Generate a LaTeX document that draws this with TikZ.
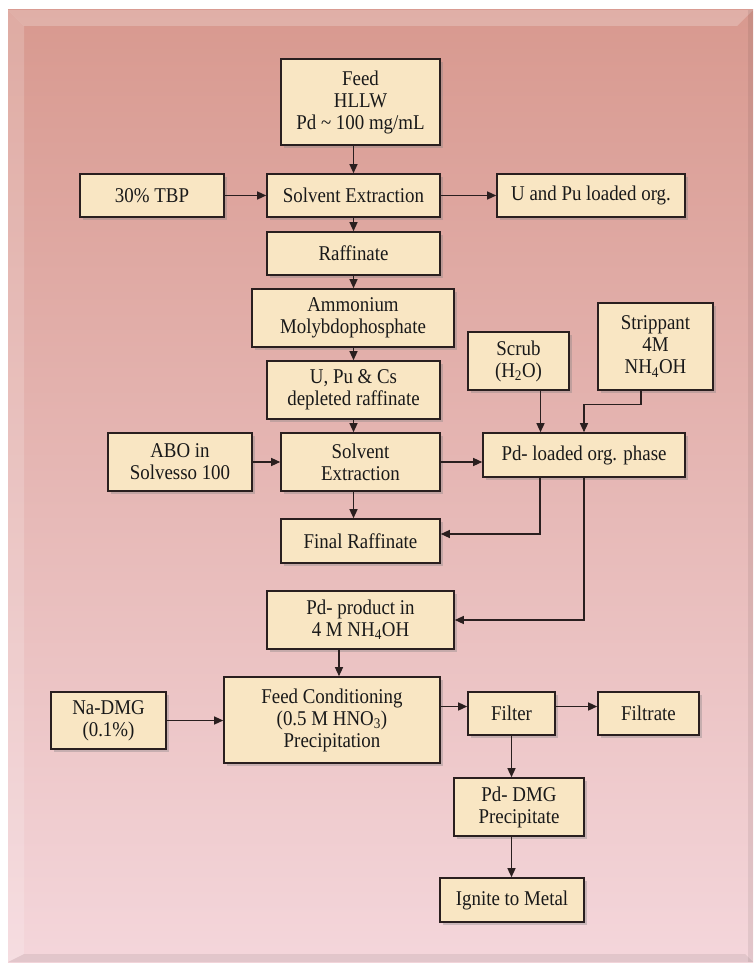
\documentclass[tikz,border=0pt]{standalone}
\usepackage{fontspec}
\setmainfont{Liberation Serif}[FakeStretch=0.9]
\usepackage{xcolor}
\usetikzlibrary{arrows.meta, shadows}

\definecolor{boxfill}{HTML}{F9E6C3}
\definecolor{boxline}{HTML}{2A1F1F}
\definecolor{paneltop}{HTML}{D8998F}
\definecolor{panelbot}{HTML}{F4D6DB}

\begin{document}
\begin{tikzpicture}[x=1pt, y=-1pt,
  box/.style={draw=boxline, fill=boxfill, line width=1.6pt, align=center, inner sep=0pt,
    text=black!90, font=\fontsize{21}{22}\selectfont,
    drop shadow={shadow xshift=3pt, shadow yshift=-3pt, opacity=0.35}},
  arr/.style={-{Triangle[length=9pt,width=8pt]}, line width=1.3pt, draw=boxline}]

% panel
\useasboundingbox (0,0) rectangle (753,965);
\shade[top color=paneltop, bottom color=panelbot] (8,10) rectangle (753,962);
\fill[white, opacity=0.22] (8,10) -- (753,10) -- (737,26) -- (24,26) -- cycle;
\fill[white, opacity=0.18] (8,10) -- (24,26) -- (24,954) -- (8,962) -- cycle;
\fill[black, opacity=0.07] (8,962) -- (24,954) -- (745,954) -- (753,962) -- cycle;
\fill[black, opacity=0.07] (748,10) rectangle (753,962);

% boxes
\node[box, minimum width=159pt, minimum height=86pt] (feed) at (360.5,102) {Feed\\HLLW\\Pd \textasciitilde{} 100 mg/mL};
\node[box, minimum width=144pt, minimum height=43pt] (tbp) at (152,195.5) {30\% TBP};
\node[box, minimum width=173pt, minimum height=43pt] (se1) at (353.5,195.5) {Solvent Extraction};
\node[box, minimum width=188pt, minimum height=43pt] (upu) at (591,195.5) {U and Pu loaded org.};
\node[box, minimum width=173pt, minimum height=43pt] (raff) at (353.5,253.5) {Raffinate};
\node[box, minimum width=202pt, minimum height=58pt] (amp) at (353,318) {Ammonium\\Molybdophosphate};
\node[box, minimum width=173pt, minimum height=58pt] (depl) at (353.5,390) {U, Pu \& Cs\\depleted raffinate};
\node[box, minimum width=101pt, minimum height=58pt] (scrub) at (518.5,361) {Scrub\\(H\textsubscript{2}O)};
\node[box, minimum width=115pt, minimum height=87pt] (strip) at (655.5,346.5) {Strippant\\4M\\NH\textsubscript{4}OH};
\node[box, minimum width=144pt, minimum height=58pt] (abo) at (180,462) {ABO in\\Solvesso 100};
\node[box, minimum width=159pt, minimum height=58pt] (se2) at (360.5,462) {Solvent\\Extraction};
\node[box, minimum width=202pt, minimum height=44pt] (pdorg) at (584,455) {Pd- loaded org. phase};
\node[box, minimum width=159pt, minimum height=44pt] (final) at (360.5,541) {Final Raffinate};
\node[box, minimum width=187pt, minimum height=58pt] (pdprod) at (360.5,620) {Pd- product in\\4 M NH\textsubscript{4}OH};
\node[box, minimum width=115pt, minimum height=57pt] (nadmg) at (108.5,720.5) {Na-DMG\\(0.1\%)};
\node[box, minimum width=216pt, minimum height=86pt] (cond) at (332,720) {Feed Conditioning\\(0.5 M HNO\textsubscript{3})\\Precipitation};
\node[box, minimum width=87pt, minimum height=43pt] (filter) at (511.5,713.5) {Filter};
\node[box, minimum width=101pt, minimum height=43pt] (filtrate) at (648.5,713.5) {Filtrate};
\node[box, minimum width=130pt, minimum height=58pt] (pddmg) at (519,807) {Pd- DMG\\Precipitate};
\node[box, minimum width=144pt, minimum height=44pt] (ignite) at (512,900) {Ignite to Metal};

% connectors
\draw[arr] (feed.south -| se1.north) -- (se1.north);
\draw[arr] (tbp.east) -- (se1.west);
\draw[arr] (se1.east) -- (upu.west);
\draw[arr] (se1.south) -- (raff.north);
\draw[arr] (raff.south) -- (raff.south |- amp.north);
\draw[arr] (amp.south -| depl.south) -- (depl.north);
\draw[arr] (depl.south) -- (depl.south |- se2.north);
\draw[arr] (abo.east) -- (se2.west);
\draw[arr] (se2.east) -- (se2.east -| pdorg.west);
\draw[arr] (depl.south |- se2.south) -- (depl.south |- final.north);
\draw[arr] ([xshift=22pt]scrub.south) -- ([xshift=22pt]scrub.south |- pdorg.north);
\draw[arr] ([xshift=-14.5pt]strip.south) -- ++(0,14) -| (pdorg.north);
\draw[arr] ([xshift=-44pt]pdorg.south) |- ([yshift=7pt]final.east);
\draw[arr] (pdorg.south) |- (pdprod.east);
\draw[arr] ([xshift=-21.5pt]pdprod.south) -- ([xshift=-21.5pt]pdprod.south |- cond.north);
\draw[arr] (nadmg.east) -- (nadmg.east -| cond.west);
\draw[arr] ([yshift=7pt]filter.west -| cond.east) -- ([yshift=7pt]filter.west);
\draw[arr] ([yshift=7pt]filter.east) -- ([yshift=7pt]filtrate.west);
\draw[arr] (filter.south) -- (filter.south |- pddmg.north);
\draw[arr] (filter.south |- pddmg.south) -- (filter.south |- ignite.north);
\end{tikzpicture}
\end{document}
